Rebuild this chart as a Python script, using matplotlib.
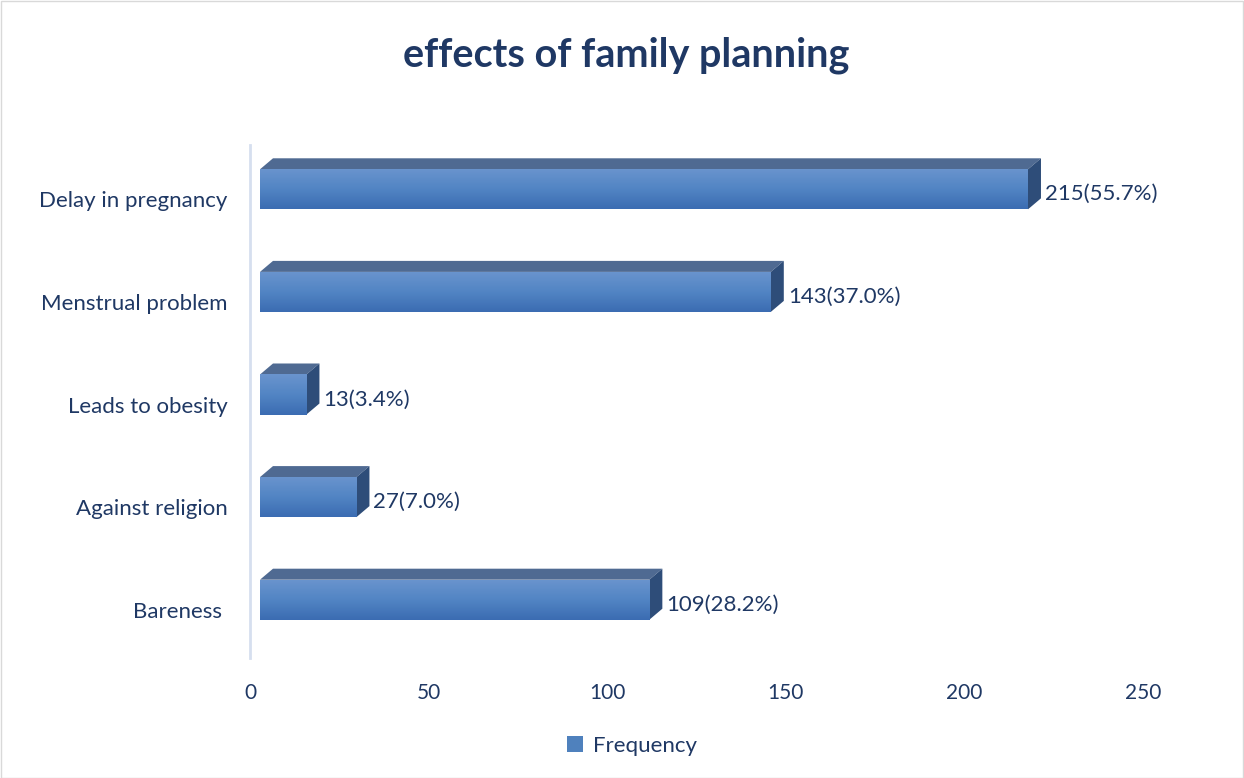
import numpy as np
import matplotlib
matplotlib.use("Agg")
import matplotlib.pyplot as plt
import matplotlib.transforms as mtransforms
from matplotlib.colors import LinearSegmentedColormap
from matplotlib.patches import Patch, Polygon, Rectangle

plt.rcParams["font.family"] = ["Lato", "DejaVu Sans"]

categories = ["Delay in pregnancy", "Menstrual problem", "Leads to obesity",
              "Against religion", "Bareness "]
frequency = [215, 143, 13, 27, 109]
percent = ["55.7%", "37.0%", "3.4%", "7.0%", "28.2%"]
xticks = [0, 50, 100, 150, 200, 250]

NAVY = "#1f3864"
FRONT_TOP, FRONT_BOT = "#6a94ce", "#3b6cb2"
TOP_FACE = "#4f6a92"
SIDE_FACE = "#2e4d79"

W, H, DPI = 1244, 778, 100
fig = plt.figure(figsize=(W / DPI, H / DPI), dpi=DPI)
fig.patches.append(Rectangle((0.5 / W, 0.5 / H), 1 - 1.5 / W, 1 - 1.5 / H,
                             transform=fig.transFigure, fill=False,
                             edgecolor="#d9d9d9", lw=1))

# plot area in pixels: x 250..1143, y 145..658
ax = fig.add_axes([250 / W, 1 - 658 / H, 893 / W, 513 / H])
n = len(categories)
ys = np.arange(n)
bar_h = 0.39
ax.set_xlim(0, 250)
ax.set_ylim(n - 0.5, -0.5)

# front face sits a few pixels right/up of the flat position (Excel 3D look)
front = mtransforms.offset_copy(ax.transData, fig=fig, x=10, y=7, units="dots")
px_x = 893 / 250.0
px_y = 513 / n
dx, dy = 13 / px_x, 11 / px_y  # depth in data units

grad = LinearSegmentedColormap.from_list("bar", [FRONT_TOP, "#5285c4", FRONT_BOT])
bars = ax.barh(ys, frequency, height=bar_h, color="#4f81bd", transform=front, zorder=3)
for rect, y, v in zip(bars, ys, frequency):
    top, bot = y - bar_h / 2, y + bar_h / 2
    im = ax.imshow(np.linspace(0, 1, 64).reshape(-1, 1), cmap=grad, aspect="auto",
                   extent=(0, v, bot, top), origin="upper", transform=front, zorder=3.1)
    im.set_clip_path(rect)
    ax.add_patch(Polygon([(0, top), (v, top), (v + dx, top - dy), (dx, top - dy)],
                         closed=True, facecolor=TOP_FACE, edgecolor="none",
                         transform=front, zorder=2.9))
    ax.add_patch(Polygon([(v, top), (v + dx, top - dy), (v + dx, bot - dy), (v, bot)],
                         closed=True, facecolor=SIDE_FACE, edgecolor="none",
                         transform=front, zorder=2.9))

ax.set_xlim(0, 250)
ax.set_ylim(n - 0.5, -0.5)

for y, v, p in zip(ys, frequency, percent):
    ax.annotate(f"{v}({p})", xy=(v, y), xytext=(27, 2), textcoords="offset pixels",
                ha="left", va="center", fontsize=16, color=NAVY, zorder=5)

ax.set_yticks(ys)
ax.set_yticklabels(categories)
ax.set_xticks(xticks)
ax.tick_params(axis="both", length=0, labelcolor=NAVY)
ax.tick_params(axis="y", pad=16, labelsize=16)
ax.tick_params(axis="x", pad=18, labelsize=15)
shift = mtransforms.ScaledTranslation(0, -3 / DPI, fig.dpi_scale_trans)
for lab in ax.get_yticklabels():
    lab.set_transform(lab.get_transform() + shift)
for side in ["top", "right", "bottom"]:
    ax.spines[side].set_visible(False)
ax.spines["left"].set_color("#d6dfef")
ax.spines["left"].set_linewidth(2)

fig.text(626 / W, 1 - 55 / H, "effects of family planning", ha="center", va="center",
         fontsize=28.5, fontweight="bold", color=NAVY)

fig.legend(handles=[Patch(facecolor="#4f81bd", edgecolor="none", label="Frequency")],
           loc="center", bbox_to_anchor=(632 / W, 1 - 746 / H), frameon=False,
           fontsize=16, labelcolor=NAVY, handlelength=0.7, handleheight=0.7,
           handletextpad=0.45)

fig.savefig("out.png", dpi=DPI)
